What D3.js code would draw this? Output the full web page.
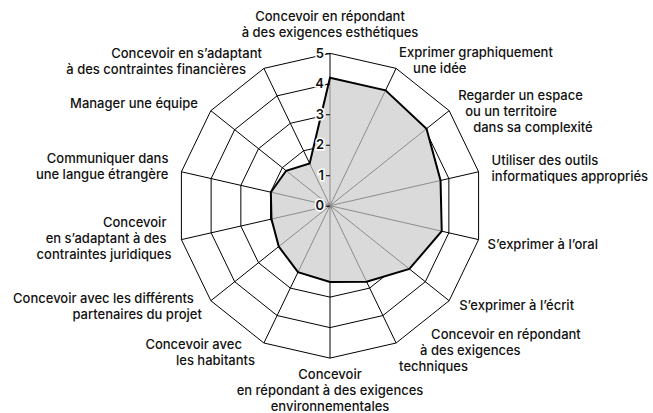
<!DOCTYPE html>
<html>
<head>
<meta charset="utf-8">
<script src="https://cdn.jsdelivr.net/npm/d3@7"></script>
<style>
  body { margin: 0; background: #fff; }
  svg { display: block; }
  text { font-family: Inter, "Open Sans", sans-serif; fill: #111; }
</style>
</head>
<body>
<div id="chart"></div>
<script>
// skills, clockwise from the top
var skills = [
  ["Concevoir en répondant", "à des exigences esthétiques"],
  ["Exprimer graphiquement", "une idée"],
  ["Regarder un espace", "ou un territoire", "dans sa complexité"],
  ["Utiliser des outils", "informatiques appropriés"],
  ["S\u2019exprimer à l\u2019oral"],
  ["S\u2019exprimer à l\u2019écrit"],
  ["Concevoir en répondant", "à des exigences", "techniques"],
  ["Concevoir", "en répondant à des exigences", "environnementales"],
  ["Concevoir avec", "les habitants"],
  ["Concevoir avec les différents", "partenaires du projet"],
  ["Concevoir", "en s\u2019adaptant à des", "contraintes juridiques"],
  ["Communiquer dans", "une langue étrangère"],
  ["Manager une équipe"],
  ["Concevoir en s\u2019adaptant", "à des contraintes financières"]
]
var scores = [4.2, 4.2, 4.05, 3.72, 3.76, 3.33, 2.77, 2.5, 2.42, 2.15, 1.97, 1.99, 1.84, 1.54]
var levels = [1, 2, 3, 4, 5]
var tickValues = [0, 1, 2, 3, 4, 5]

// label placement around each outer vertex: anchor, x shift per line, y of first line
var labelPos = [
  {anchor: "middle", dx: [0, 0], dy: -37},
  {anchor: "start", dx: [3, 17], dy: -16},
  {anchor: "start", dx: [9, 16, 24], dy: -15},
  {anchor: "start", dx: [13, 13], dy: -11},
  {anchor: "start", dx: [9], dy: 5},
  {anchor: "start", dx: [10], dy: 5},
  {anchor: "start", dx: [35, 24, 3], dy: -9},
  {anchor: "middle", dx: [0, 0, 0], dy: 16},
  {anchor: "end", dx: [-22, -9], dy: 1},
  {anchor: "end", dx: [-17, -9], dy: -2},
  {anchor: "end", dx: [-15, -15, -10], dy: -17},
  {anchor: "end", dx: [-13, -13], dy: -13},
  {anchor: "end", dx: [-13], dy: -7},
  {anchor: "end", dx: [-2, -18], dy: -15}
]

var width = 653, height = 413
var cx = 330, cy = 205.7, radius = 152.4
var lineHeight = 16

var svg = d3.select("#chart").append("svg")
  .attr("width", width)
  .attr("height", height)

var g = svg.append("g")
  .attr("transform", "translate(" + cx + "," + cy + ")")

var r = d3.scaleLinear().domain([0, 5]).range([0, radius])
var angle = d3.scaleLinear().domain([0, skills.length]).range([0, 2 * Math.PI])

function px(i, v) { return Math.sin(angle(i)) * r(v) }
function py(i, v) { return -Math.cos(angle(i)) * r(v) }

var radial = d3.lineRadial()
  .angle(d => angle(d.i))
  .radius(d => r(d.v))
  .curve(d3.curveLinearClosed)

// grid rings
g.selectAll(".ring")
  .data(levels)
  .enter()
  .append("path")
  .attr("class", "ring")
  .attr("d", lv => radial(skills.map((s, i) => ({i: i, v: lv}))))
  .attr("fill", "none")
  .attr("stroke", "#000")
  .attr("stroke-width", 1)

// spokes
g.selectAll(".spoke")
  .data(skills)
  .enter()
  .append("line")
  .attr("class", "spoke")
  .attr("x1", 0).attr("y1", 0)
  .attr("x2", (d, i) => px(i, 5))
  .attr("y2", (d, i) => py(i, 5))
  .attr("stroke", "#000")
  .attr("stroke-width", 1)

var scorePts = scores.map((v, i) => ({i: i, v: v}))

// filled area
g.append("path")
  .attr("d", radial(scorePts))
  .attr("fill", "#dadada")

g.append("clipPath").attr("id", "areaClip")
  .append("path")
  .attr("d", radial(scorePts))

// grey spokes inside the area
g.append("g")
  .attr("clip-path", "url(#areaClip)")
  .selectAll("line")
  .data(skills)
  .enter()
  .append("line")
  .attr("x1", 0).attr("y1", 0)
  .attr("x2", (d, i) => px(i, 5))
  .attr("y2", (d, i) => py(i, 5))
  .attr("stroke", "#8c8c8c")
  .attr("stroke-width", 1)

g.append("path")
  .attr("d", radial(scorePts))
  .attr("fill", "none")
  .attr("stroke", "#000")
  .attr("stroke-width", 2)
  .attr("stroke-linejoin", "miter")

g.append("circle")
  .attr("r", 2.5)
  .attr("fill", "#8c8c8c")

// value axis along the top spoke
var yAxisScale = d3.scaleLinear().domain([0, 5]).range([0, -radius])
var yAxis = g.append("g")
  .call(d3.axisLeft(yAxisScale).tickValues(tickValues).tickFormat(d3.format("d")).tickSize(4).tickPadding(2))

yAxis.select(".domain").remove()
yAxis.selectAll(".tick line").attr("stroke", "#000")
yAxis.selectAll(".tick text")
  .attr("font-family", "Inter, sans-serif")
  .attr("font-size", 13)
  .attr("font-weight", 600)
  .attr("fill", "#111")
  .attr("stroke", "#fff")
  .attr("stroke-width", 3)
  .attr("paint-order", "stroke")

// category labels
var labels = g.selectAll(".label")
  .data(skills)
  .enter()
  .append("text")
  .attr("class", "label")
  .attr("font-size", 13)
  .attr("font-weight", 500)
  .attr("text-anchor", (d, i) => labelPos[i].anchor)

labels.each(function(lines, i) {
  var t = d3.select(this)
  var p = labelPos[i]
  lines.forEach(function(line, k) {
    t.append("tspan")
      .attr("x", px(i, 5) + p.dx[k])
      .attr("y", py(i, 5) + p.dy + k * lineHeight)
      .attr("dy", "0.35em")
      .text(line)
  })
})
</script>
</body>
</html>
